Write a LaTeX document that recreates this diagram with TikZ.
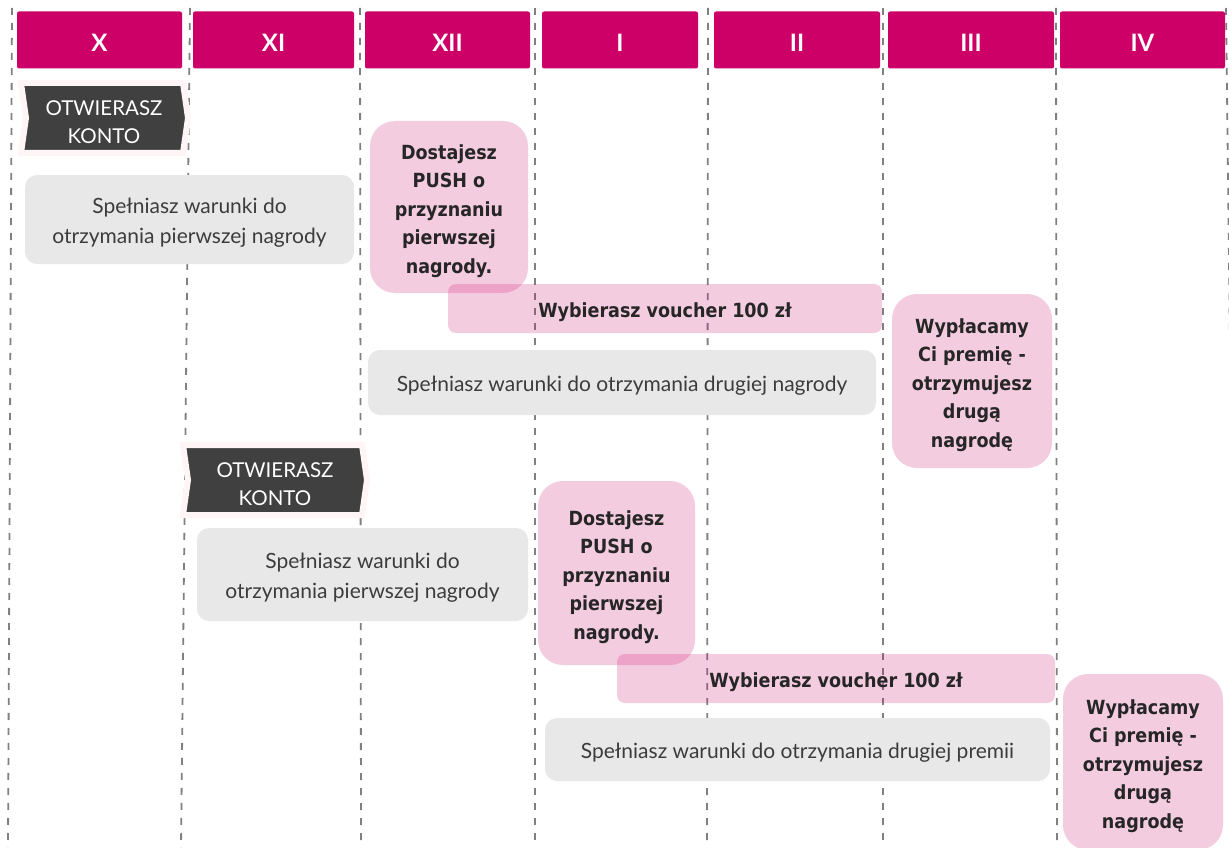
\documentclass[tikz,border=0pt]{standalone}
\usepackage{fontspec}
\setmainfont{Lato}
\newfontfamily\pinkfont{DejaVu Sans Condensed}
\definecolor{hdr}{RGB}{204,0,102}
\definecolor{greybox}{RGB}{232,232,232}
\definecolor{greytxt}{RGB}{60,60,60}
\definecolor{chevfill}{RGB}{64,64,64}
\definecolor{glowcol}{RGB}{255,245,247}
\definecolor{linegrey}{RGB}{128,128,128}
\definecolor{pinktxt}{RGB}{38,38,38}
\tikzset{
  hdrbox/.style={fill=hdr, rounded corners=2pt, inner sep=0pt, minimum height=57pt},
  hdrtext/.style={text=white, inner sep=0pt, font=\bfseries\fontsize{24}{30}\selectfont},
  greyboxst/.style={fill=greybox, rounded corners=12pt, inner sep=0pt},
  greytext/.style={text=greytxt, align=center, inner sep=0pt,
    font=\fontsize{21}{30}\selectfont},
  pinkbox/.style={fill=hdr, fill opacity=0.2, rounded corners=25pt, inner sep=0pt},
  voucherbox/.style={pinkbox, rounded corners=8pt},
  pinktext/.style={text=pinktxt, align=center, inner sep=0pt,
    font=\pinkfont\bfseries\fontsize{19.5}{28.5}\selectfont},
  gridline/.style={draw=linegrey, line width=1.8pt, dash pattern=on 7pt off 8pt},
  chevshape/.style={fill=chevfill, draw=glowcol, line width=6pt},
  chevtext/.style={text=white, align=center, inner sep=0pt,
    font=\fontsize{20.5}{28}\selectfont},
}
\begin{document}
\begin{tikzpicture}[x=1pt,y=-1pt]
\useasboundingbox (0,0) rectangle (1229,848);
\fill[white] (0,0) rectangle (1229,848);
% grid lines
\coordinate (t1) at (12,8);   \coordinate (b1) at (8,848);
\coordinate (t2) at (190,8);  \coordinate (b2) at (181,848);
\coordinate (t3) at (360,8);  \coordinate (b3) at (361,848);
\coordinate (t4) at (535,8);  \coordinate (b4) at (535,848);
\coordinate (t5) at (708,8);  \coordinate (b5) at (707,848);
\coordinate (t6) at (883,8);  \coordinate (b6) at (883,848);
\coordinate (t7) at (1056,8); \coordinate (b7) at (1057,848);
\coordinate (t8) at (1226,8); \coordinate (b8) at (1236,848);
\foreach \i in {1,...,8} \draw[gridline] (t\i) -- (b\i);
% headers
\node[hdrbox, minimum width=165pt] (hX) at (99.5,40) {};
\node[hdrbox, minimum width=161pt] (hXI) at (273.5,40) {};
\node[hdrbox, minimum width=165pt] (hXII) at (447.5,40) {};
\node[hdrbox, minimum width=156pt] (hI) at (620,40) {};
\node[hdrbox, minimum width=166pt] (hII) at (797,40) {};
\node[hdrbox, minimum width=166pt] (hIII) at (971,40) {};
\node[hdrbox, minimum width=165pt] (hIV) at (1142.5,40) {};
\node[hdrtext] (tX) at ([yshift=-2.5pt]hX.center) {X};
\node[hdrtext] (tXI) at ([yshift=-2.5pt]hXI.center) {XI};
\node[hdrtext] (tXII) at ([yshift=-2.5pt]hXII.center) {XII};
\node[hdrtext] (tI) at ([yshift=-2.5pt]hI.center) {I};
\node[hdrtext] (tII) at ([yshift=-2.5pt]hII.center) {II};
\node[hdrtext] (tIII) at ([yshift=-2.5pt]hIII.center) {III};
\node[hdrtext] (tIV) at ([yshift=-2.5pt]hIV.center) {IV};
% chevrons
\path[chevshape] (21,83) -- (183,83) -- (188,118) -- (183,153) -- (21,153) -- (26,118) -- cycle;
\node[chevtext] (k1) at (104,122) {OTWIERASZ\\KONTO};
\path[chevshape] (183,445) -- (362,445) -- (367,480) -- (362,515) -- (183,515) -- (188,480) -- cycle;
\node[chevtext] (k2) at (275,484) {OTWIERASZ\\KONTO};
% grey boxes
\node[greyboxst, minimum width=329pt, minimum height=89pt] (g1) at (189.5,219.5) {};
\node[greytext] (g1t) at ([yshift=-3pt]g1.center) {Spełniasz warunki do\\otrzymania pierwszej nagrody};
\node[greyboxst, minimum width=508pt, minimum height=65pt] (g2) at (622,382.5) {};
\node[greytext] (g2t) at ([yshift=-3pt]g2.center) {Spełniasz warunki do otrzymania drugiej nagrody};
\node[greyboxst, minimum width=331pt, minimum height=93pt] (g3) at (362.5,574.5) {};
\node[greytext] (g3t) at ([yshift=-3pt]g3.center) {Spełniasz warunki do\\otrzymania pierwszej nagrody};
\node[greyboxst, minimum width=505pt, minimum height=63pt] (g4) at (797.5,749.5) {};
\node[greytext] (g4t) at ([yshift=-3pt]g4.center) {Spełniasz warunki do otrzymania drugiej premii};
% pink boxes
\node[pinkbox, minimum width=158pt, minimum height=172pt] (p1) at (449,207) {};
\node[voucherbox, minimum width=434pt, minimum height=49pt] (v1) at (665,308.5) {};
\node[pinkbox, minimum width=160pt, minimum height=174pt] (w1) at (972,381) {};
\node[pinkbox, minimum width=157pt, minimum height=184pt] (p2) at (616.5,573) {};
\node[voucherbox, minimum width=438pt, minimum height=49pt] (v2) at (836,678.5) {};
\node[pinkbox, minimum width=160pt, minimum height=176pt] (w2) at (1143,762) {};
\node[pinktext] (p1t) at ([yshift=-4pt]p1.center) {Dostajesz\\PUSH o\\przyznaniu\\pierwszej\\nagrody.};
\node[pinktext] (v1t) at ([yshift=-4pt]v1.center) {Wybierasz voucher 100 zł};
\node[pinktext] (w1t) at ([yshift=-4pt]w1.center) {Wypłacamy\\Ci premię -\\otrzymujesz\\drugą\\nagrodę};
\node[pinktext] (p2t) at ([yshift=-4pt]p2.center) {Dostajesz\\PUSH o\\przyznaniu\\pierwszej\\nagrody.};
\node[pinktext] (v2t) at ([yshift=-4pt]v2.center) {Wybierasz voucher 100 zł};
\node[pinktext] (w2t) at ([yshift=-4pt]w2.center) {Wypłacamy\\Ci premię -\\otrzymujesz\\drugą\\nagrodę};
\end{tikzpicture}
\end{document}
